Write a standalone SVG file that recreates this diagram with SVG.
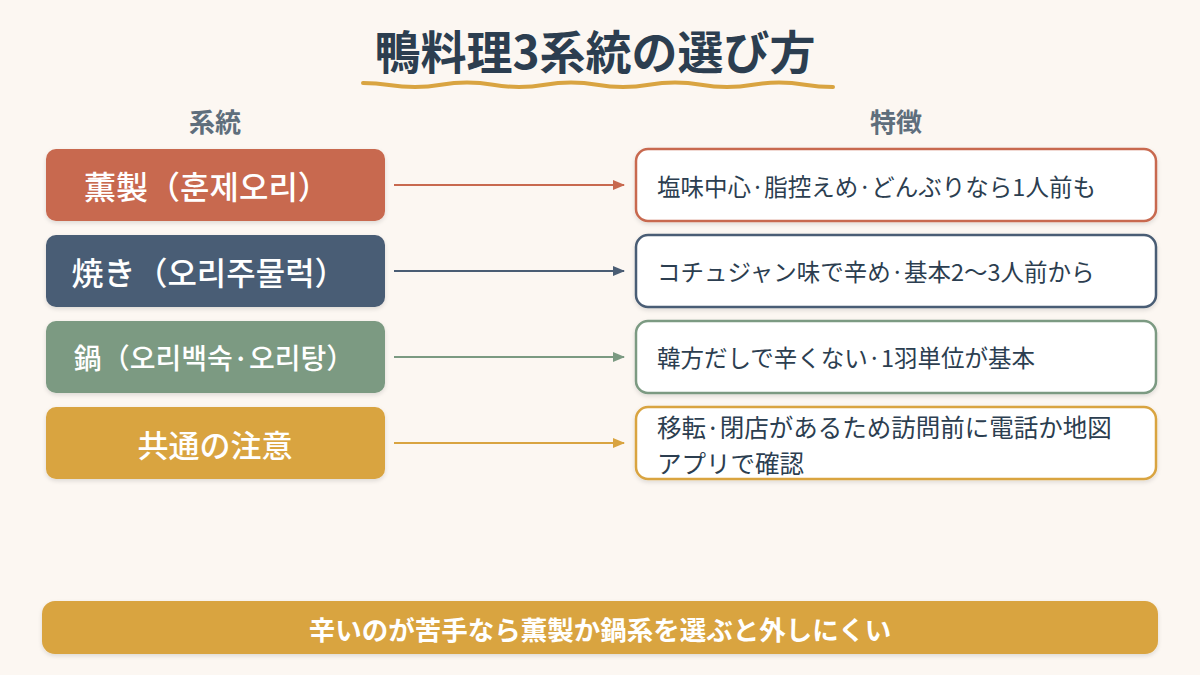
<svg xmlns="http://www.w3.org/2000/svg" width="1200" height="675" viewBox="0 0 1200 675">
<defs>
<style>
.jp{font-family:"Noto Sans CJK JP","Noto Sans CJK KR",sans-serif;}
.title{font-size:46px;font-weight:700;fill:#2c3e50;}
.head{font-size:26px;font-weight:700;fill:#5f6e7c;}
.lt{font-size:32px;font-weight:500;fill:#ffffff;}
.rt{font-size:23.5px;font-weight:400;fill:#2c3e50;}
.bt{font-size:26.5px;font-weight:700;fill:#ffffff;}
.rbox{fill:#ffffff;stroke-width:2.5;}
</style>
<filter id="sh" x="-10%" y="-20%" width="120%" height="150%">
<feDropShadow dx="0" dy="2" stdDeviation="2" flood-color="#000" flood-opacity="0.12"/>
</filter>
<marker id="a1" viewBox="0 0 12 10" refX="11" refY="5" markerWidth="12" markerHeight="10" markerUnits="userSpaceOnUse" orient="auto"><path d="M0,0 L12,5 L0,10 Z" fill="#c8694f"/></marker>
<marker id="a2" viewBox="0 0 12 10" refX="11" refY="5" markerWidth="12" markerHeight="10" markerUnits="userSpaceOnUse" orient="auto"><path d="M0,0 L12,5 L0,10 Z" fill="#4a5d74"/></marker>
<marker id="a3" viewBox="0 0 12 10" refX="11" refY="5" markerWidth="12" markerHeight="10" markerUnits="userSpaceOnUse" orient="auto"><path d="M0,0 L12,5 L0,10 Z" fill="#7b9a82"/></marker>
<marker id="a4" viewBox="0 0 12 10" refX="11" refY="5" markerWidth="12" markerHeight="10" markerUnits="userSpaceOnUse" orient="auto"><path d="M0,0 L12,5 L0,10 Z" fill="#d9a441"/></marker>
</defs>
<rect width="1200" height="675" fill="#fcf7f2"/>

<g id="title">
<text class="jp title" x="595" y="69" text-anchor="middle">鴨料理3系統の選び方</text>
<path d="M363,83 C389,83 389,87 415,87 C441,87 441,82.5 467,82.5 C493,82.5 493,87 519,87 C545,87 545,82.5 571,82.5 C597,82.5 597,87 623,87 C649,87 649,82.5 675,82.5 C701,82.5 701,87 727,87 C753,87 753,82.5 779,82.5 C805,82.5 805,87 833,87" fill="none" stroke="#d9a441" stroke-width="4" stroke-linecap="round"/>
</g>

<g id="headers">
<text class="jp head" x="215" y="120" text-anchor="middle" dominant-baseline="central">系統</text>
<text class="jp head" x="896" y="120" text-anchor="middle" dominant-baseline="central">特徴</text>
</g>

<g id="node-smoked">
<rect x="46" y="149" width="339" height="72" rx="10" fill="#c8694f" filter="url(#sh)"/>
<text class="jp lt" x="207" y="185" text-anchor="middle" dominant-baseline="central">薫製（훈제오리）</text>
</g>
<g id="node-grilled">
<rect x="46" y="235" width="339" height="72" rx="10" fill="#4a5d74" filter="url(#sh)"/>
<text class="jp lt" x="209" y="271" text-anchor="middle" dominant-baseline="central">焼き（오리주물럭）</text>
</g>
<g id="node-pot">
<rect x="46" y="321" width="339" height="72" rx="10" fill="#7b9a82" filter="url(#sh)"/>
<text class="jp lt" x="214" y="357" text-anchor="middle" dominant-baseline="central" style="font-size:28px">鍋（오리백숙·오리탕）</text>
</g>
<g id="node-common">
<rect x="46" y="407" width="339" height="72" rx="10" fill="#d9a441" filter="url(#sh)"/>
<text class="jp lt" x="215" y="443" text-anchor="middle" dominant-baseline="central" style="font-size:31px">共通の注意</text>
</g>

<g id="feat-smoked">
<rect class="rbox" x="636" y="149" width="520" height="72" rx="12" stroke="#c8694f" filter="url(#sh)"/>
<text class="jp rt" x="657" y="186" dominant-baseline="central">塩味中心·脂控えめ·どんぶりなら1人前も</text>
</g>
<g id="feat-grilled">
<rect class="rbox" x="636" y="235" width="520" height="72" rx="12" stroke="#4a5d74" filter="url(#sh)"/>
<text class="jp rt" x="657" y="271" dominant-baseline="central">コチュジャン味で辛め·基本2〜3人前から</text>
</g>
<g id="feat-pot">
<rect class="rbox" x="636" y="321" width="520" height="72" rx="12" stroke="#7b9a82" filter="url(#sh)"/>
<text class="jp rt" x="657" y="357" dominant-baseline="central">韓方だしで辛くない·1羽単位が基本</text>
</g>
<g id="feat-common">
<rect class="rbox" x="636" y="407" width="520" height="72" rx="12" stroke="#d9a441" filter="url(#sh)"/>
<text class="jp rt" x="657" y="426" dominant-baseline="central" style="font-size:24.5px">移転·閉店があるため訪問前に電話か地図</text>
<text class="jp rt" x="657" y="462" dominant-baseline="central" style="font-size:24.5px">アプリで確認</text>
</g>

<g id="connectors" stroke-width="2">
<line x1="394" y1="185" x2="624" y2="185" stroke="#c8694f" marker-end="url(#a1)"/>
<line x1="394" y1="271" x2="624" y2="271" stroke="#4a5d74" marker-end="url(#a2)"/>
<line x1="394" y1="357" x2="624" y2="357" stroke="#7b9a82" marker-end="url(#a3)"/>
<line x1="394" y1="443" x2="624" y2="443" stroke="#d9a441" marker-end="url(#a4)"/>
</g>

<g id="bottom-note">
<rect x="42" y="601" width="1116" height="53" rx="13" fill="#d9a441" filter="url(#sh)"/>
<text class="jp bt" x="600" y="628" text-anchor="middle" dominant-baseline="central">辛いのが苦手なら薫製か鍋系を選ぶと外しにくい</text>
</g>
</svg>
